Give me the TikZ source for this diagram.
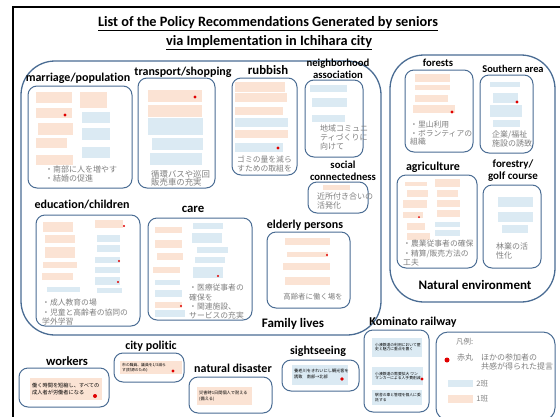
\documentclass[tikz,border=0pt]{standalone}
\usepackage{fontspec}
\setmainfont{Carlito}[Ligatures=NoCommon]
\newfontfamily\jp{Noto Sans CJK JP}
\usetikzlibrary{positioning, fit}
\definecolor{grpblue}{HTML}{4A6C93}
\definecolor{noteorange}{HTML}{FBE3D4}
\definecolor{noteblue}{HTML}{DBEAF3}
\definecolor{memogray}{HTML}{7F7F7F}
\definecolor{dotred}{HTML}{E00000}

\begin{document}
\begin{tikzpicture}[
    x=1pt, y=-1pt,
    grp/.style={draw=grpblue, line width=1pt, rounded corners=9pt, inner sep=0pt},
    region/.style={draw=grpblue, line width=1.3pt, rounded corners=34pt, inner sep=0pt},
    notea/.style={fill=noteorange, inner sep=0pt},
    noteb/.style={fill=noteblue, inner sep=0pt},
    lbl/.style={font=\fontsize{12}{12}\selectfont\bfseries, inner sep=0pt, align=center},
    smlbl/.style={lbl, font=\fontsize{10.7}{12}\selectfont\bfseries},
    biglbl/.style={font=\fontsize{13}{14}\selectfont\bfseries, inner sep=0pt},
    memo/.style={font=\jp\fontsize{8}{9}\selectfont, text=memogray, align=left,
        anchor=north west, inner sep=0pt},
    tinytxt/.style={font=\jp\fontsize{3.8}{4.8}\selectfont, align=left, anchor=west,
        inner sep=0pt},
    reddot/.style={circle, fill=dotred, inner sep=0pt, minimum size=3.2pt},
]
\useasboundingbox (0,0) rectangle (560,416);
\clip (0,0) rectangle (560,416);

% frame and title
\draw[line width=1.2pt] (13,7) rectangle (575,430);
\node[font=\fontsize{14.3}{15}\selectfont\bfseries] (title1) at (268,24)
    {\underline{List of the Policy Recommendations Generated by seniors}};
\node[font=\fontsize{14.3}{15}\selectfont\bfseries] (title2) at (269,43)
    {\underline{via Implementation in Ichihara city}};

% --- large regions ---
\node[region, fit={(21,61) (381,335)}] (family) {};
\node[region, fit={(390,55) (555,302)}] (nature) {};
\node[biglbl] (familylbl) at (293,324) {Family lives};
\node[biglbl] (naturelbl) at (475,285) {Natural environment};

% --- marriage/population ---
\node[grp, fit={(28,86) (132,188)}] (marriage) {};
\node[lbl] (marriagelbl) at (78,78) {marriage/population};
\foreach \a/\b/\c/\d [count=\i] in {36/92/72/103, 36/108/72/118, 38/123/73/135,
    36/138/67/148, 36/155/73/165, 80/92/107/108}
  \node[notea, fit={(\a,\b) (\c,\d)}] (mpa\i) {};
\foreach \a/\b/\c/\d [count=\i] in {82/112/110/123, 82/128/110/140, 82/147/110/158}
  \node[noteb, fit={(\a,\b) (\c,\d)}] (mpb\i) {};
\node[reddot] (mpdot) at (65,115) {};
\node[memo] (mpmemo) at (45,166) {・南部に人を増やす\\・結婚の促進};

% --- transport/shopping ---
\node[grp, fit={(138,78) (215,188)}] (transport) {};
\node[lbl] (transportlbl) at (183,72) {transport/shopping};
\foreach \a/\b/\c/\d [count=\i] in {148/90/202/102, 148/105/202/117}
  \node[notea, fit={(\a,\b) (\c,\d)}] (tsa\i) {};
\foreach \a/\b/\c/\d [count=\i] in {148/118/203/135, 152/138/203/150, 150/153/202/165}
  \node[noteb, fit={(\a,\b) (\c,\d)}] (tsb\i) {};
\node[reddot] (tsdot) at (195,97) {};
\node[memo, font=\jp\fontsize{8.4}{8.5}\selectfont] (tsmemo) at (151,170) {循環バスや巡回\\販売車の充実};

% --- rubbish ---
\node[grp, fit={(232,78) (297,175)}] (rubbish) {};
\node[lbl, font=\fontsize{12.8}{13}\selectfont\bfseries] (rubbishlbl) at (268,70) {rubbish};
\foreach \a/\b/\c/\d [count=\i] in {235/82/285/92, 235/93/287/102, 235/107/283/115,
    235/130/288/138}
  \node[notea, fit={(\a,\b) (\c,\d)}] (rba\i) {};
\foreach \a/\b/\c/\d [count=\i] in {235/118/288/127, 235/143/283/152}
  \node[noteb, fit={(\a,\b) (\c,\d)}] (rbb\i) {};
\node[reddot] (rbdot) at (278,148) {};
\node[memo, font=\jp\fontsize{7.8}{8.5}\selectfont] (rbmemo) at (237,156) {ゴミの量を減ら\\すための取組を};

% --- neighborhood association ---
\node[grp, fit={(305,80) (363,157)}] (neighbor) {};
\node[smlbl] (neighborlbl) at (338,69) {neighborhood\\association};
\foreach \a/\b/\c/\d [count=\i] in {310/85/347/92, 312/98/347/107, 312/115/345/122}
  \node[noteb, fit={(\a,\b) (\c,\d)}] (nab\i) {};
\node[memo] (namemo) at (320,125) {地域コミュニ\\ティづくりに\\向けて};

% --- social connectedness ---
\node[grp, fit={(308,182) (368,213)}] (social) {};
\node[smlbl] (sociallbl) at (343,171) {social\\connectedness};
\node[notea, fit={(323,185) (350,190)}] (sca1) {};
\node[memo] (scmemo) at (317,193) {近所付き合いの\\活発化};

% --- forests ---
\node[grp, fit={(405,70) (473,152)}] (forests) {};
\node[smlbl] (forestslbl) at (438,63) {forests};
\foreach \a/\b/\c/\d [count=\i] in {415/74/450/82, 415/85/450/90, 415/95/448/102,
    413/105/455/113}
  \node[notea, fit={(\a,\b) (\c,\d)}] (fra\i) {};
\node[reddot] (frdot) at (452,112) {};
\node[memo, font=\jp\fontsize{7.8}{8.5}\selectfont] (frmemo) at (410,121) {・里山利用\\・ボランティアの\\組織};

% --- southern area ---
\node[grp, fit={(480,75) (533,153)}] (southern) {};
\node[smlbl, font=\fontsize{10.4}{12}\selectfont\bfseries] (southernlbl) at (513,69) {Southern area};
\foreach \a/\b/\c/\d [count=\i] in {490/82/520/87, 493/93/518/103, 490/105/522/117,
    493/120/520/127}
  \node[noteb, fit={(\a,\b) (\c,\d)}] (sab\i) {};
\node[reddot] (sadot) at (517,102) {};
\node[memo] (samemo) at (492,131) {企業/福祉\\施設の誘致};

% --- agriculture ---
\node[grp, fit={(397,175) (477,268)}] (agri) {};
\node[lbl] (agrilbl) at (433,167) {agriculture};
\foreach \a/\b/\c/\d [count=\i] in {405/182/427/186, 407/190/428/197, 403/200/427/208,
    403/212/423/218, 407/223/425/230, 407/233/430/240, 435/179/460/187,
    437/190/458/197, 437/200/460/207, 437/210/460/217}
  \node[notea, fit={(\a,\b) (\c,\d)}] (aga\i) {};
\foreach \a/\b/\c/\d [count=\i] in {435/222/460/227, 435/230/460/236}
  \node[noteb, fit={(\a,\b) (\c,\d)}] (agb\i) {};
\node[reddot, minimum size=2pt] (agdot) at (419,217) {};
\node[memo, font=\jp\fontsize{7.8}{9.5}\selectfont] (agmemo) at (403,240) {・農業従事者の確保\\・精算/販売方法の\\工夫};

% --- forestry/golf course ---
\node[grp, fit={(483,185) (541,268)}] (forestry) {};
\node[smlbl, font=\fontsize{11}{12}\selectfont\bfseries] (forestrylbl) at (513,171) {forestry/\\golf course};
\foreach \a/\b/\c/\d [count=\i] in {498/197/533/207, 498/212/533/222, 502/225/528/233}
  \node[noteb, fit={(\a,\b) (\c,\d)}] (fgb\i) {};
\node[memo] (fgmemo) at (496,243) {林業の活\\性化};

% --- education/children ---
\node[grp, fit={(36,215) (140,326)}] (edu) {};
\node[lbl] (edulbl) at (82,205) {education/children};
\foreach \a/\b/\c/\d [count=\i] in {43/222/73/232, 45/235/75/243, 45/247/75/258,
    43/262/77/268, 42/273/73/280, 95/220/123/228}
  \node[notea, fit={(\a,\b) (\c,\d)}] (eca\i) {};
\foreach \a/\b/\c/\d [count=\i] in {47/287/80/292, 97/235/120/242, 97/245/120/252,
    95/257/120/263, 95/267/120/273, 95/277/120/285, 97/288/122/293}
  \node[noteb, fit={(\a,\b) (\c,\d)}] (ecb\i) {};
\foreach \x/\y [count=\i] in {124/226, 119/261, 118/282}
  \node[reddot, minimum size=2.4pt] (ecdot\i) at (\x,\y) {};
\node[memo, font=\jp\fontsize{7.8}{9.5}\selectfont] (ecmemo) at (42,299) {・成人教育の場\\・児童と高齢者の協同の\\学外学習};

% --- care ---
\node[grp, fit={(148,218) (252,320)}] (care) {};
\node[lbl, font=\fontsize{12.8}{13}\selectfont\bfseries] (carelbl) at (193,209) {care};
\foreach \a/\b/\c/\d [count=\i] in {155/227/182/233, 155/240/182/248, 157/253/183/260,
    153/267/180/273, 155/302/182/308}
  \node[notea, fit={(\a,\b) (\c,\d)}] (cra\i) {};
\foreach \a/\b/\c/\d [count=\i] in {155/280/180/285, 155/290/182/297, 155/310/185/317,
    193/223/223/229, 192/233/222/243, 197/247/228/253, 195/257/225/263,
    193/267/223/278}
  \node[noteb, fit={(\a,\b) (\c,\d)}] (crb\i) {};
\foreach \x/\y [count=\i] in {181/306, 218/276}
  \node[reddot, minimum size=2.4pt] (crdot\i) at (\x,\y) {};
\node[memo, font=\jp\fontsize{7.8}{9.3}\selectfont] (crmemo) at (189,284) {・医療従事者の\\確保を\\・関連施設、\\サービスの充実};

% --- elderly persons ---
\node[grp, fit={(267,232) (350,308)}] (elderly) {};
\node[lbl] (elderlylbl) at (305,225) {elderly persons};
\foreach \a/\b/\c/\d [count=\i] in {285/238/330/245, 287/252/328/257, 283/263/330/270,
    285/277/330/285}
  \node[notea, fit={(\a,\b) (\c,\d)}] (epa\i) {};
\node[reddot, minimum size=2.4pt] (epdot) at (327,255) {};
\node[memo, anchor=center, font=\jp\fontsize{7.4}{8}\selectfont] (epmemo) at (313,297) {高齢者に働く場を};

% --- stand-alone groups along the bottom ---
\node[grp, fit={(19,368) (109,407)}] (workers) {};
\node[lbl, font=\fontsize{12.6}{13}\selectfont\bfseries] (workerslbl) at (67,361) {workers};
\node[notea, fit={(30,378) (102,400)}] (wka1) {};
\node[tinytxt, font=\jp\fontsize{5.2}{7}\selectfont] (wktxt) at (32,389)
    {働く時間を短縮し、すべての\\成人者が労働者になる};
\node[reddot, minimum size=4pt] (wkdot) at (95,396) {};

\node[grp, fit={(114,353) (184,382)}] (city) {};
\node[lbl] (citylbl) at (151,346) {city politic};
\node[notea, fit={(120,361) (182,374)}] (cpa1) {};
\node[tinytxt] (cptxt) at (122,367.5) {市の職員、議員を1/3減ら\\す(財源のため)};
\node[reddot] (cpdot) at (173,371) {};

\node[grp, fit={(189,377) (272,413)}] (disaster) {};
\node[lbl] (disasterlbl) at (233,368) {natural disaster};
\node[notea, fit={(197,387) (252,405)}] (nda1) {};
\node[tinytxt, font=\jp\fontsize{4.2}{5.4}\selectfont] (ndtxt) at (199,396) {災害時1日間個人で耐える\\(備える)};

\node[grp, fit={(282,360) (359,391)}] (sight) {};
\node[lbl] (sightlbl) at (318,351) {sightseeing};
\node[noteb, fit={(292,365) (348,385)}] (ssb1) {};
\node[tinytxt, font=\jp\fontsize{4.2}{5.4}\selectfont] (sstxt) at (294,374) {養老川をきれいにし観光客を\\誘致　南部→北部};
\node[reddot, minimum size=3.6pt] (ssdot) at (342,379) {};

\node[grp, fit={(364,330) (429,412)}] (railway) {};
\node[lbl] (railwaylbl) at (413,322) {Kominato railway};
\foreach \a/\b/\c/\d [count=\i] in {372/338/422/357, 372/367/423/385, 372/390/422/405}
  \node[noteb, fit={(\a,\b) (\c,\d)}] (krb\i) {};
\node[tinytxt] (krtxt1) at (375,347) {小湊鉄道の利用において歴\\史と魅力に重点を置く};
\node[tinytxt] (krtxt2) at (375,376) {小湊鉄道の需要拡大 ワン\\マンカーによる人手費削減};
\node[tinytxt] (krtxt3) at (375,397.5) {駅舎の車と管理を個人に委\\託する};
\node[reddot] (krdot) at (422,379) {};

% --- legend ---
\node[grp, rounded corners=12pt, fit={(436,332) (555,420)}] (legend) {};
\node[memo, anchor=west, font=\jp\fontsize{7.5}{9}\selectfont] (leghead) at (456,342) {凡例:};
\node[reddot, minimum size=5pt] (legdot) at (447,360) {};
\node[memo, anchor=north west, font=\jp\fontsize{8}{9}\selectfont] (legdottxt) at (457,354)
    {赤丸　ほかの参加者の\\\hphantom{赤丸　}共感が得られた提言};
\node[noteb, fit={(448,380) (473,387)}] (legb) {};
\node[memo, anchor=west, font=\jp\fontsize{7.5}{9}\selectfont, right=3pt of legb] (legbtxt) {2班};
\node[notea, fit={(448,395) (473,403)}] (lega) {};
\node[memo, anchor=west, font=\jp\fontsize{7.5}{9}\selectfont, right=3pt of lega] (legatxt) {1班};

\end{tikzpicture}
\end{document}
